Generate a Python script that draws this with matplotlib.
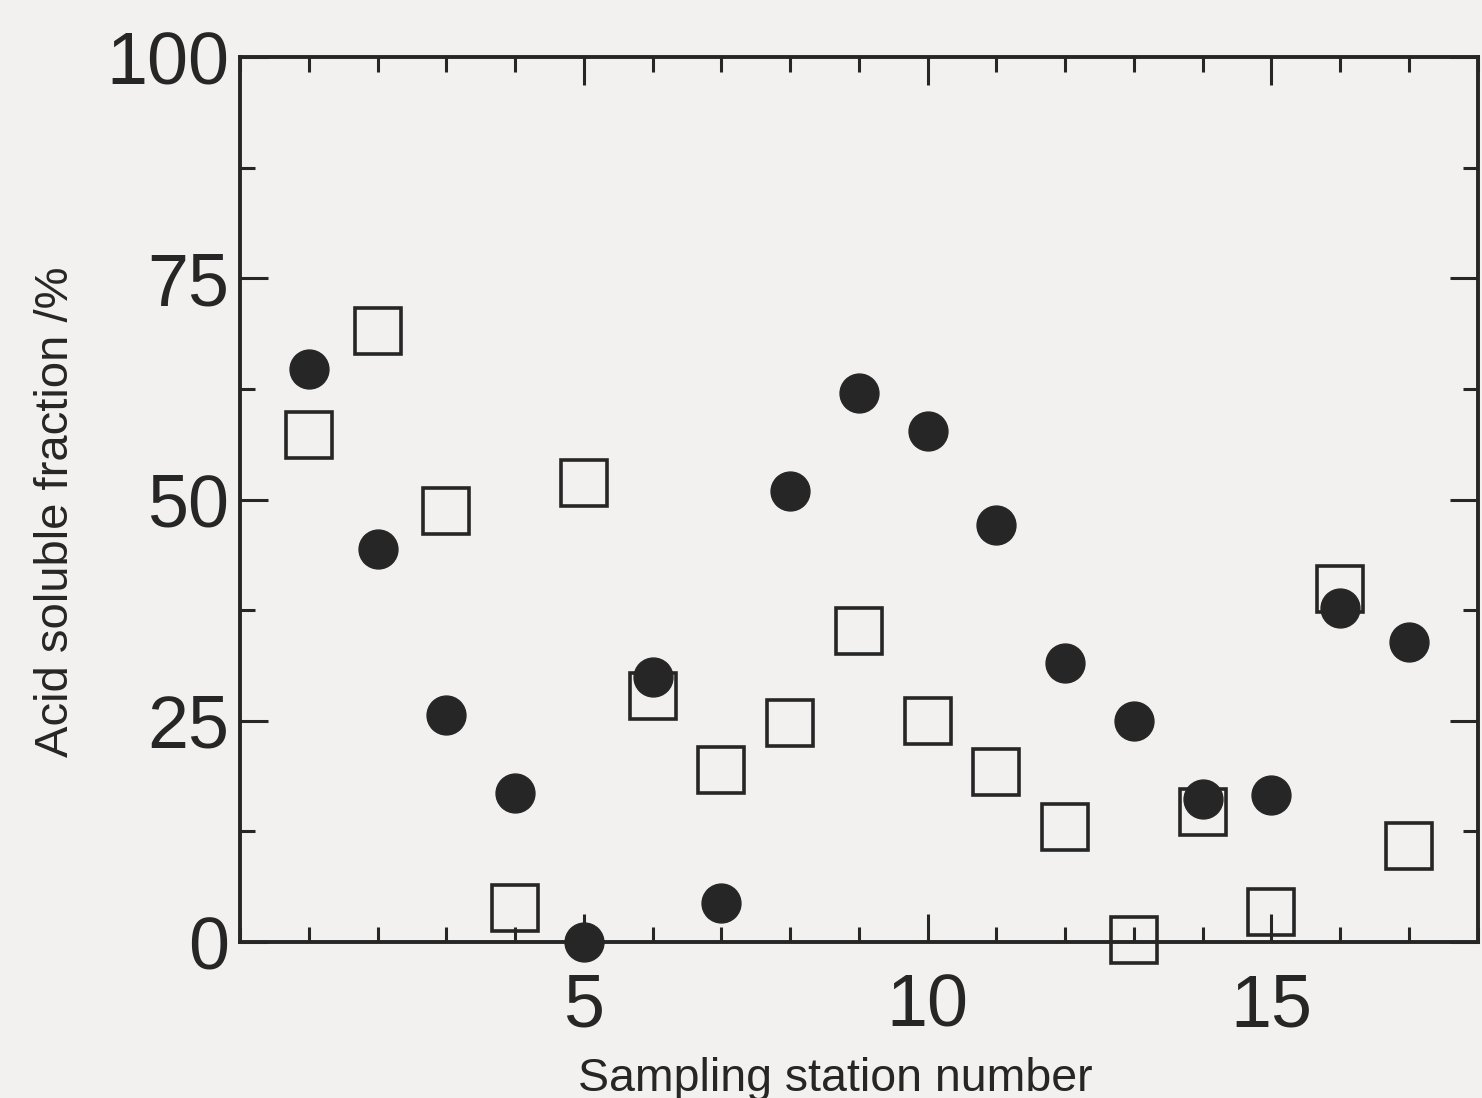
import matplotlib
matplotlib.use("Agg")
import matplotlib.pyplot as plt
from matplotlib.ticker import MultipleLocator

# Station numbers and acid soluble fractions (%)
stations = list(range(1, 18))
filled_vals = [64.7, 44.4, 25.7, 16.8, 0.0, 30.0, 4.4, 51.0, 62.1, 57.7,
               47.1, 31.5, 25.0, 16.2, 16.6, 37.7, 33.9]
open_vals = [57.3, 69.0, 48.7, 3.9, 51.9, 27.8, 19.4, 24.8, 35.1, 25.0,
             19.2, 13.0, 0.2, 14.7, 3.4, 39.9, 10.9]

ink = "#262626"
bg = "#f3f1f0"

plt.rcParams['font.family'] = ['Liberation Sans', 'DejaVu Sans']

fig = plt.figure(figsize=(14.82, 10.98), dpi=100, facecolor=bg)
ax = fig.add_axes([0.162, 0.142, 0.835, 0.806])
ax.set_facecolor(bg)

# Open squares first, filled circles on top
ax.plot(stations, open_vals, linestyle='none', marker='s', markersize=33,
        markerfacecolor='none', markeredgecolor=ink, markeredgewidth=2.6, clip_on=False)
ax.plot(stations, filled_vals, linestyle='none', marker='o', markersize=28,
        markerfacecolor=ink, markeredgecolor=ink, clip_on=False)

ax.set_xlim(0, 18)
ax.set_ylim(0, 100)
ax.xaxis.set_minor_locator(MultipleLocator(1))
ax.yaxis.set_major_locator(MultipleLocator(25))
ax.yaxis.set_minor_locator(MultipleLocator(12.5))

ax.set_xticks([5, 10, 15])
ax.set_xticklabels(['5', '10', '15'])

for s in ax.spines.values():
    s.set_linewidth(2.8)
    s.set_color(ink)

ax.tick_params(which='both', direction='in', top=True, right=True, colors=ink,
               labelsize=53, width=2.2)
ax.tick_params(which='major', length=20)
ax.tick_params(which='minor', length=11)
ax.tick_params(axis='x', which='major', pad=22)
ax.tick_params(axis='y', which='major', pad=8)

ax.set_xlabel('Sampling station number', fontsize=33.5, color=ink, labelpad=11)
ax.set_ylabel('Acid soluble fraction /%', fontsize=34, color=ink, labelpad=20)
# labels sit a little off-centre in the original
ax.xaxis.label.set_x(0.481)
ax.yaxis.label.set_y(0.486)

fig.savefig("out.png", dpi=100, facecolor=bg)
